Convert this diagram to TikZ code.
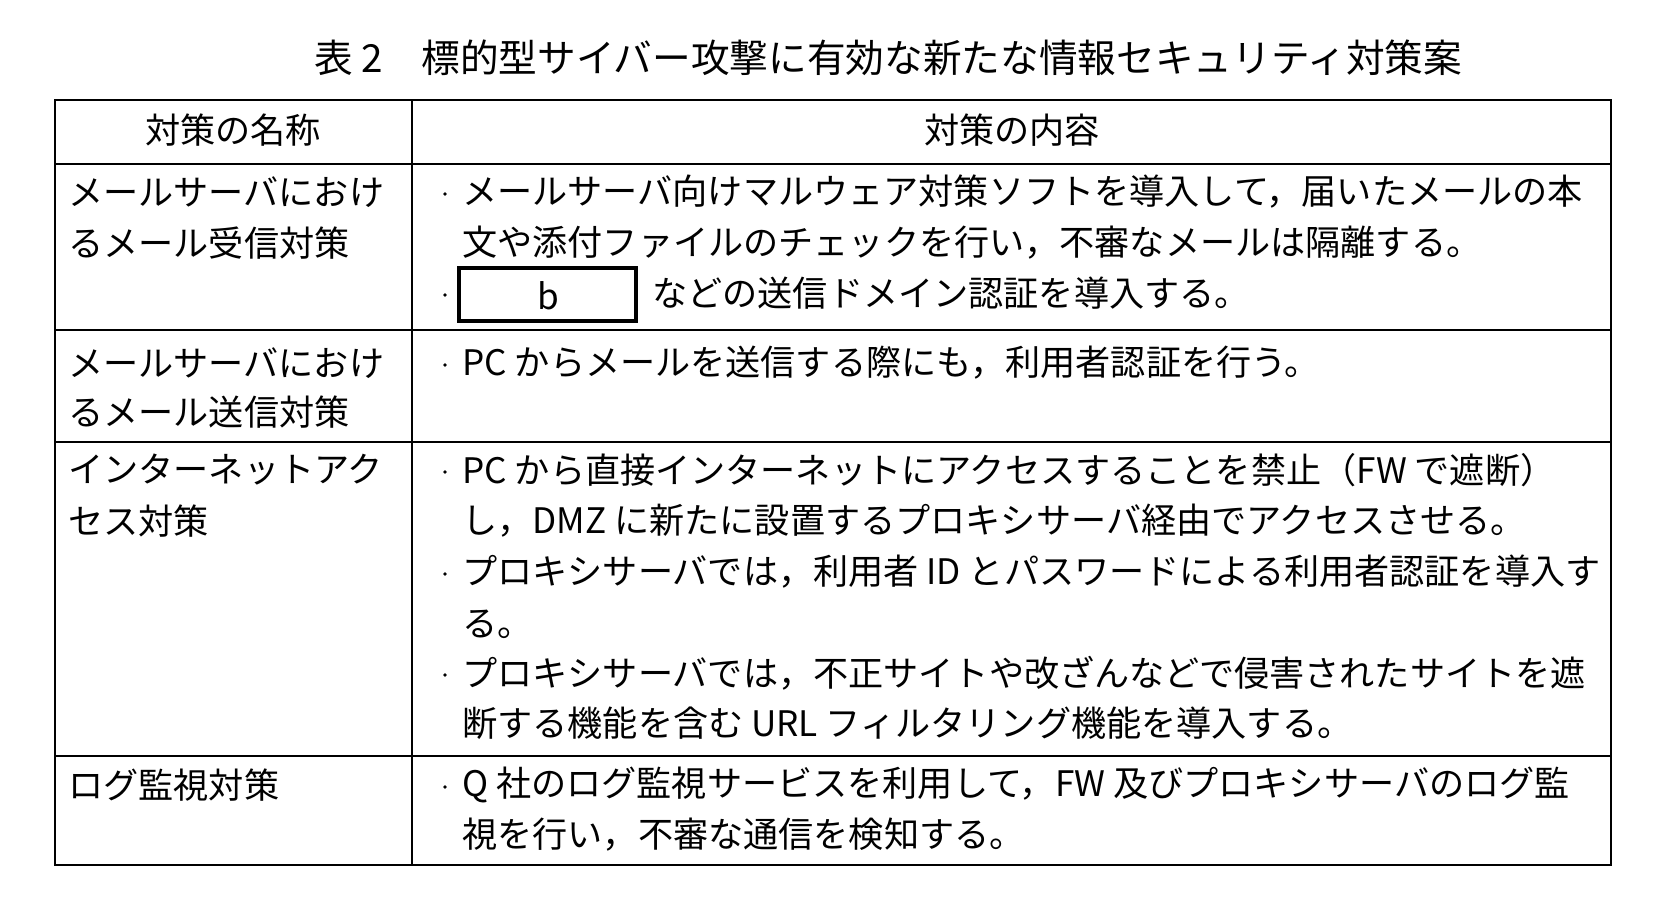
\documentclass[tikz,border=0pt]{standalone}
\usepackage{fontspec}
\setmainfont{Noto Sans CJK JP}
\begin{document}
\begin{tikzpicture}[x=0.02cm, y=-0.02cm,
  txt/.style={anchor=west, inner sep=0pt, font=\fontsize{20}{24}\selectfont},
  hd/.style={inner sep=0pt, font=\fontsize{20}{24}\selectfont},
  rule/.style={line width=1.3pt}]
  \useasboundingbox (0,0) rectangle (1658,908);
  % title
  \node[hd, font=\fontsize{22}{26}\selectfont] (title) at (888,58) {表 2\hspace{1em}標的型サイバー攻撃に有効な新たな情報セキュリティ対策案};
  % frame
  \draw[rule] (55,100) rectangle (1611,865);
  \draw[rule] (412,100) -- (412,865);
  \foreach \y in {164,330,442,756}
    \draw[rule] (55,\y) -- (1611,\y);
  % header
  \node[hd] (h1) at (233,130) {対策の名称};
  \node[hd] (h2) at (1012,130) {対策の内容};
  % names
  \node[txt] (n1a) at (68,192) {メールサーバにおけ};
  \node[txt] (n1b) at (68,243) {るメール受信対策};
  \node[txt] (n2a) at (68,363) {メールサーバにおけ};
  \node[txt] (n2b) at (68,412) {るメール送信対策};
  \node[txt] (n3a) at (68,470) {インターネットアク};
  \node[txt] (n3b) at (68,521) {セス対策};
  \node[txt] (n4a) at (68,785) {ログ監視対策};
  % contents
  \foreach \y in {192,293,363,470,572,673,785}
    \fill (445,\y+2) circle (1.8);
  \node[txt] (c1a) at (462,192) {メールサーバ向けマルウェア対策ソフトを導入して，届いたメールの本};
  \node[txt] (c1b) at (462,243) {文や添付ファイルのチェックを行い，不審なメールは隔離する。};
  \draw[line width=2.4pt] (459,268) rectangle (636,321);
  \node[hd] (b) at (548,296) {b};
  \node[txt] (c1c) at (652,293) {などの送信ドメイン認証を導入する。};
  \node[txt] (c2a) at (462,363) {PC からメールを送信する際にも，利用者認証を行う。};
  \node[txt] (c3a) at (462,470) {PC から直接インターネットにアクセスすることを禁止（FW で遮断）};
  \node[txt] (c3b) at (462,521) {し，DMZ に新たに設置するプロキシサーバ経由でアクセスさせる。};
  \node[txt] (c3c) at (462,572) {プロキシサーバでは，利用者 ID とパスワードによる利用者認証を導入す};
  \node[txt] (c3d) at (462,624) {る。};
  \node[txt] (c3e) at (462,673) {プロキシサーバでは，不正サイトや改ざんなどで侵害されたサイトを遮};
  \node[txt] (c3f) at (462,723) {断する機能を含む URL フィルタリング機能を導入する。};
  \node[txt] (c4a) at (462,785) {Q 社のログ監視サービスを利用して，FW 及びプロキシサーバのログ監};
  \node[txt] (c4b) at (462,835) {視を行い，不審な通信を検知する。};
\end{tikzpicture}
\end{document}
